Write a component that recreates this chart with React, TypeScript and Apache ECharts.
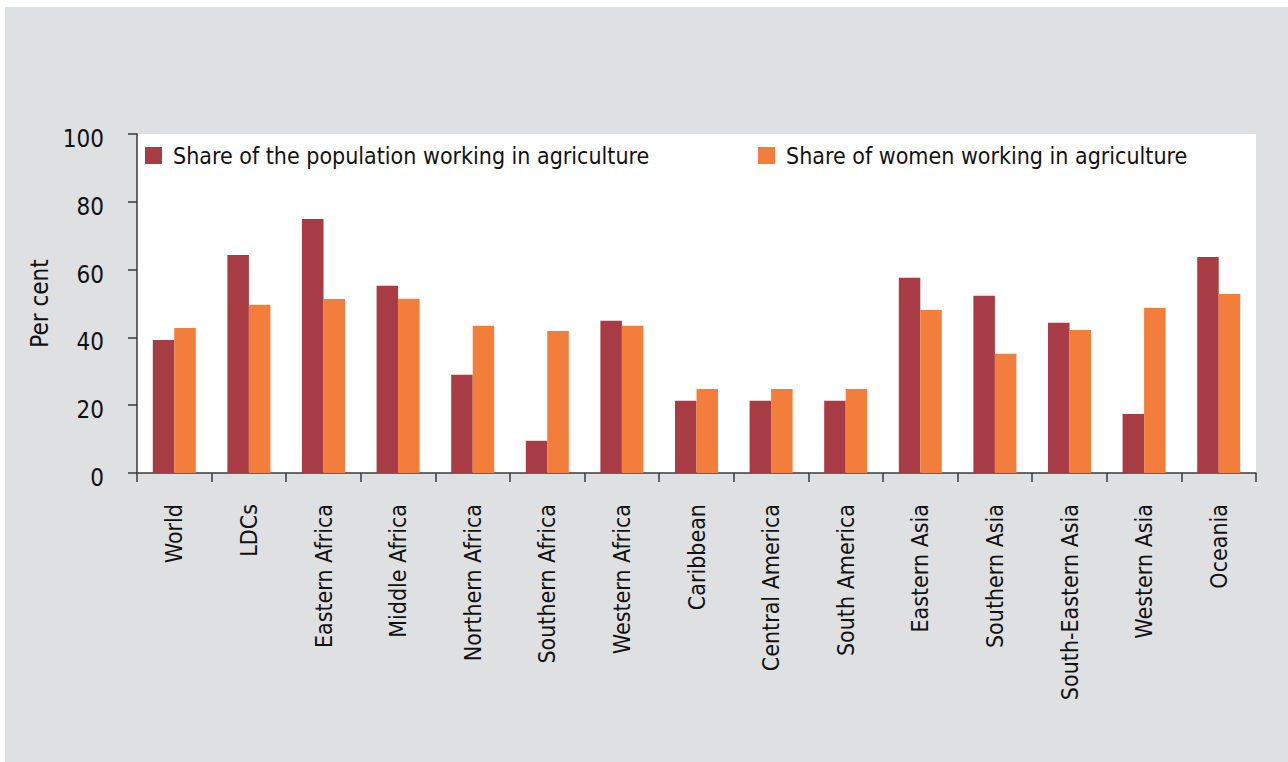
import React, { useEffect, useRef } from "react";
import * as echarts from "echarts";

const categories = [
  "World", "LDCs", "Eastern Africa", "Middle Africa", "Northern Africa",
  "Southern Africa", "Western Africa", "Caribbean", "Central America",
  "South America", "Eastern Asia", "Southern Asia", "South-Eastern Asia",
  "Western Asia", "Oceania",
];
const populationShare = [39.2, 64.3, 74.9, 55.2, 29.0, 9.5, 44.9, 21.3, 21.3, 21.3, 57.6, 52.3, 44.3, 17.4, 63.7];
const womenShare = [42.8, 49.6, 51.3, 51.4, 43.4, 41.9, 43.4, 24.8, 24.8, 24.8, 48.1, 35.2, 42.2, 48.7, 52.8];
const seriesNames = [
  "Share of the population working in agriculture",
  "Share of women working in agriculture",
];
const yTicks = { min: 0, max: 100, interval: 20 };

const FONT = "'Liberation Sans Narrow', 'DejaVu Sans Condensed', 'Arial Narrow', sans-serif";
const DARK = "#a83c44";
const ORANGE = "#f37e3b";
const AXIS = "#3a3a3a";
const TEXT = "#111111";

export default function App() {
  const ref = useRef<HTMLDivElement>(null);
  useEffect(() => {
    if (!ref.current) return;
    const chart = echarts.init(ref.current, null, { renderer: "svg" });
    const legendText = { fontFamily: FONT, fontSize: 23, color: TEXT, padding: [0, 0, 0, 6] };
    chart.setOption({
      animation: false,
      textStyle: { fontFamily: FONT },
      grid: {
        left: 137,
        top: 134,
        right: 32,
        bottom: 289,
        show: true,
        backgroundColor: "#ffffff",
        borderWidth: 0,
      },
      legend: [
        {
          left: 145,
          top: 144,
          padding: 0,
          data: [seriesNames[0]],
          icon: "rect",
          itemWidth: 17,
          itemHeight: 17,
          itemGap: 0,
          textStyle: legendText,
        },
        {
          left: 758,
          top: 144,
          padding: 0,
          data: [seriesNames[1]],
          icon: "rect",
          itemWidth: 17,
          itemHeight: 17,
          itemGap: 0,
          textStyle: legendText,
        },
      ],
      xAxis: {
        type: "category",
        data: categories,
        axisLine: { show: true, lineStyle: { color: AXIS, width: 1.5 } },
        axisTick: { show: true, length: 9, lineStyle: { color: AXIS, width: 1.5 } },
        axisLabel: {
          rotate: 90,
          interval: 0,
          margin: 31,
          fontFamily: FONT,
          fontSize: 23,
          color: TEXT,
        },
        splitLine: { show: false },
      },
      yAxis: {
        type: "value",
        min: yTicks.min,
        max: yTicks.max,
        interval: yTicks.interval,
        name: "Per cent",
        nameLocation: "middle",
        nameGap: 80,
        nameTextStyle: { fontFamily: FONT, fontSize: 24, color: TEXT },
        axisLine: { show: true, lineStyle: { color: AXIS, width: 1.5 } },
        axisTick: { show: true, length: 9, lineStyle: { color: AXIS, width: 1.5 } },
        axisLabel: {
          margin: 33,
          fontFamily: FONT,
          fontSize: 24,
          color: TEXT,
          formatter: "{v|{value}}",
          rich: {
            v: { fontFamily: FONT, fontSize: 24, color: TEXT, padding: [10, 0, 0, 0] },
          },
        },
        splitLine: { show: false },
      },
      series: [
        {
          name: seriesNames[0],
          type: "bar",
          data: populationShare,
          barWidth: 21.5,
          barGap: "0%",
          itemStyle: { color: DARK },
        },
        {
          name: seriesNames[1],
          type: "bar",
          data: womenShare,
          barWidth: 21.5,
          barGap: "0%",
          itemStyle: { color: ORANGE },
        },
      ],
    });
    return () => chart.dispose();
  }, []);

  return (
    <div style={{ position: "fixed", left: 0, top: 0, width: 1288, height: 762, background: "#ffffff" }}>
      <div style={{ position: "absolute", left: 5, top: 7, width: 1283, height: 755, background: "#dfe0e2" }} />
      <div ref={ref} style={{ position: "absolute", left: 0, top: 0, width: 1288, height: 762 }} />
    </div>
  );
}
